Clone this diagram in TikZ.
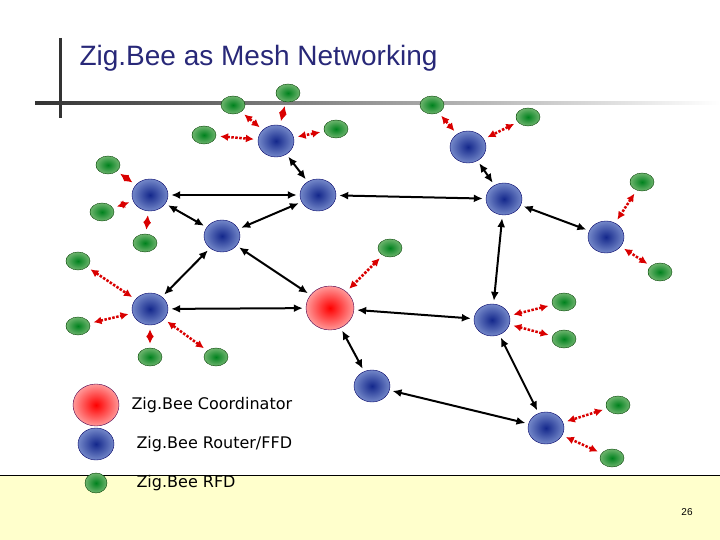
\documentclass[tikz,border=0pt]{standalone}
\usepackage{fontspec}
\setmainfont{Liberation Sans}
\newfontfamily\legendfont{DejaVu Sans}
\usetikzlibrary{arrows.meta,shapes.geometric}
\definecolor{titleblue}{RGB}{40,40,120}
\definecolor{slideyellow}{RGB}{255,255,204}
\definecolor{routerout}{RGB}{115,135,200}
\definecolor{routerin}{RGB}{20,40,140}
\definecolor{rfdout}{RGB}{110,180,110}
\definecolor{rfdin}{RGB}{0,130,30}
\begin{document}
\begin{tikzpicture}[
    x=1pt,y=-1pt,
    router/.style={
      ellipse,
      draw=blue!40!black,
      inner color=routerin,
      outer color=routerout,
      minimum width=36pt,
      minimum height=32pt
    },
    rfd/.style={
      ellipse,
      draw=green!25!black,
      inner color=rfdin,
      outer color=rfdout,
      minimum width=24pt,
      minimum height=18pt
    },
    coord/.style={
      ellipse,
      draw=violet!60!black,
      inner color=red,
      outer color=red!40,
      minimum width=48pt,
      minimum height=44pt
    },
    link/.style={{Latex[length=9pt,width=8pt]}-{Latex[length=9pt,width=8pt]}, line width=2pt, shorten <=3pt, shorten >=3pt},
    radio/.style={{Latex[length=8pt,width=8pt]}-{Latex[length=8pt,width=8pt]}, red!85!black, line width=2.5pt, dash pattern=on 2.5pt off 1.5pt, shorten <=4pt, shorten >=4pt}]

    \useasboundingbox (0,0) rectangle (720,540);
    % slide footer
    \fill[slideyellow] (0,475) rectangle (720,540);
    \draw (0,475) -- (720,475);
    \node at (687,512) {26};
    % title
    \draw[line width=3pt,black!80] (60,38) -- (60,118);
    \shade[left color=black!80,right color=white] (35,102) rectangle (720,105);
    \node[anchor=west,text=titleblue,font=\fontsize{28}{32}\selectfont] at (76,58) {Zig.Bee as Mesh Networking};

    % routers and coordinator
    \node[router] (R1) at (276,141) {};
    \node[router] (R2) at (150,195) {};
    \node[router] (R3) at (318,195) {};
    \node[router] (R4) at (222,236) {};
    \node[router] (R5) at (150,309) {};
    \node[router] (R6) at (468,147) {};
    \node[router] (R7) at (504,199) {};
    \node[router] (R8) at (606,237) {};
    \node[router] (R9) at (492,320) {};
    \node[router] (R10) at (372,386) {};
    \node[router] (R11) at (546,428) {};
    \node[coord] (C) at (330,308) {};

    % end devices
    \node[rfd] (E1) at (233,105) {};
    \node[rfd] (E2) at (288,93) {};
    \node[rfd] (E3) at (204,135) {};
    \node[rfd] (E4) at (336,129) {};
    \node[rfd] (E5) at (108,165) {};
    \node[rfd] (E6) at (102,212) {};
    \node[rfd] (E7) at (145,243) {};
    \node[rfd] (E8) at (78,261) {};
    \node[rfd] (E9) at (78,326) {};
    \node[rfd] (E10) at (150,357) {};
    \node[rfd] (E11) at (216,357) {};
    \node[rfd] (E12) at (390,248) {};
    \node[rfd] (E13) at (432,105) {};
    \node[rfd] (E14) at (528,117) {};
    \node[rfd] (E15) at (642,182) {};
    \node[rfd] (E16) at (660,272) {};
    \node[rfd] (E17) at (564,302) {};
    \node[rfd] (E18) at (564,339) {};
    \node[rfd] (E19) at (618,405) {};
    \node[rfd] (E20) at (612,458) {};

    % mesh links
    \foreach \a/\b in {R1/R3,R2/R3,R2/R4,R4/R3,R4/R5,R4/C,R5/C,R3/R7,R7/R8,R7/R9,C/R9,C/R10,R10/R11,R9/R11,R6/R7}
      \draw[link] (\a) -- (\b);
    % radio links
    \foreach \a/\b in {E1/R1,E2/R1,E3/R1,E4/R1,E5/R2,E6/R2,E7/R2,E8/R5,E9/R5,E10/R5,E11/R5,E12/C,E13/R6,E14/R6,E15/R8,E16/R8,E17/R9,E18/R9,E19/R11,E20/R11}
      \draw[radio] (\a) -- (\b);

    % legend
    \node[coord,minimum width=46pt,minimum height=42pt] (LC) at (96,405) {};
    \node[router] (LR) at (96,444) {};
    \node[rfd,minimum width=22pt,minimum height=20pt] (LE) at (96,483) {};
    \node[anchor=west,font=\legendfont\fontsize{16}{18}\selectfont] at (128,405) {Zig.Bee Coordinator};
    \node[anchor=west,font=\legendfont\fontsize{16}{18}\selectfont] at (133,444) {Zig.Bee Router/FFD};
    \node[anchor=west,font=\legendfont\fontsize{16}{18}\selectfont] at (133,483) {Zig.Bee RFD};
  \end{tikzpicture}
\end{document}
